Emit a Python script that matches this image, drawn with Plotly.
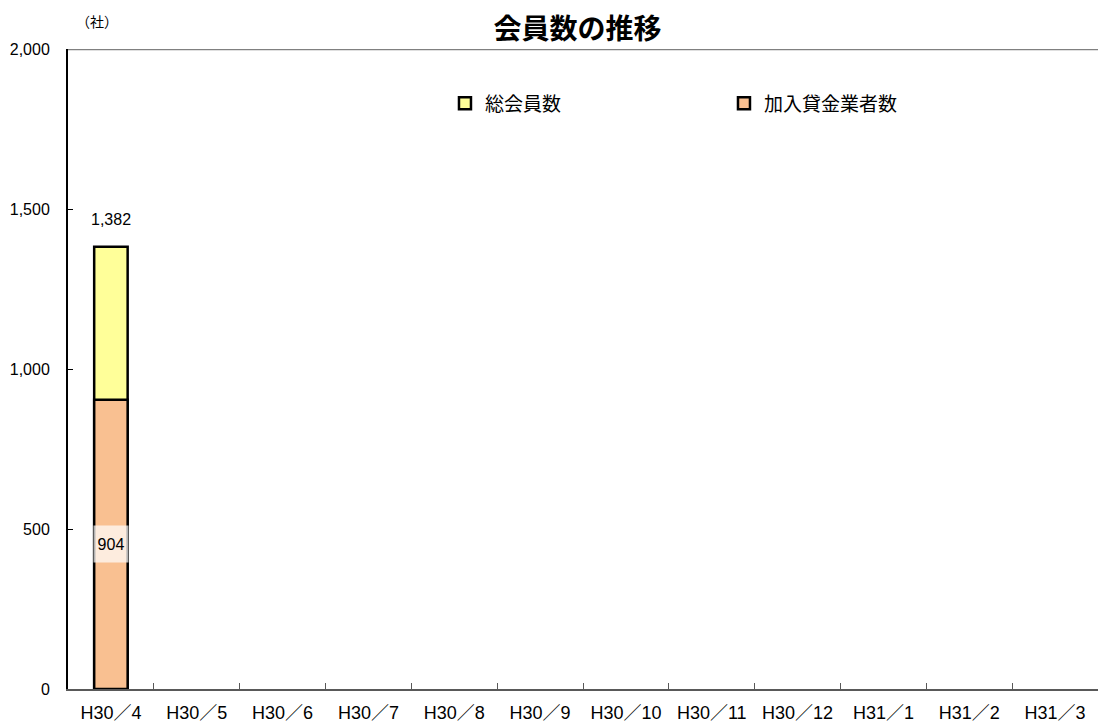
import plotly.graph_objects as go

categories = ["H30／4", "H30／5", "H30／6", "H30／7", "H30／8", "H30／9",
              "H30／10", "H30／11", "H30／12", "H31／1", "H31／2", "H31／3"]
total_members = [1382, None, None, None, None, None, None, None, None, None, None, None]
lender_members = [904, None, None, None, None, None, None, None, None, None, None, None]

CJK = "Noto Sans CJK JP"
LAT = "Liberation Sans, Arial, Noto Sans CJK JP"

fig = go.Figure()
fig.add_trace(go.Bar(
    x=categories, y=total_members, name="総会員数",
    marker=dict(color="#FFFF99", line=dict(color="black", width=2.5)),
    width=0.39,
))
fig.add_trace(go.Bar(
    x=categories, y=lender_members, name="加入貸金業者数",
    marker=dict(color="#F9C091", line=dict(color="black", width=2.5)),
    width=0.39,
))

# data labels
for c, v in zip(categories, total_members):
    if v is not None:
        fig.add_annotation(x=c, y=v, text=f"{v:,}", showarrow=False, yshift=27,
                           font=dict(family=LAT, size=16, color="black"))
for c, v in zip(categories, lender_members):
    if v is not None:
        fig.add_annotation(x=c, y=v / 2, text=f"{v:,}", showarrow=False,
                           bgcolor="rgba(255,255,255,0.7)", borderpad=0,
                           width=34, height=36,
                           font=dict(family=LAT, size=16, color="black"))

fig.add_shape(type="line", xref="paper", yref="y", x0=0, x1=1, y0=2000, y1=2000,
              line=dict(color="#808080", width=2.5))

fig.update_layout(
    width=1098, height=726,
    margin=dict(l=68, r=0, t=49, b=37, autoexpand=False),
    paper_bgcolor="white", plot_bgcolor="white",
    barmode="overlay",
    font=dict(family=LAT, color="black"),
    title=dict(text="<b>会員数の推移</b>", x=0.526, xanchor="center", y=0.96, yanchor="middle",
               xref="container", yref="container",
               font=dict(family=CJK, size=28, color="black")),
    showlegend=True,
    legend=dict(orientation="h", x=0.366, y=0.915, xanchor="left", yanchor="middle",
                entrywidth=234, entrywidthmode="pixels", itemwidth=30,
                font=dict(family=CJK, size=19, color="black"),
                bgcolor="rgba(0,0,0,0)"),
    xaxis=dict(type="category", categoryorder="array", categoryarray=categories,
               range=[-0.5, 11.5], automargin=False,
               showline=True, linecolor="#595959", linewidth=2,
               ticks="inside", tickson="boundaries", ticklen=6, tickcolor="#595959",
               ticklabelstandoff=6,
               showgrid=False, tickfont=dict(family=LAT, size=18, color="black")),
    yaxis=dict(range=[0, 2000], tickvals=[0, 500, 1000, 1500, 2000], tickformat=",",
               automargin=False,
               showline=True, linecolor="black", linewidth=2,
               ticks="inside", ticklen=5, tickcolor="black", ticklabelstandoff=13,
               showgrid=False, zeroline=False,
               tickfont=dict(family=LAT, size=16, color="black")),
)

fig.add_annotation(xref="paper", yref="paper", x=0.028, y=1.043, text="（社）", showarrow=False,
                   xanchor="center", yanchor="middle", font=dict(family=CJK, size=14, color="black"))

fig.write_html("out.html", config={"displayModeBar": False},
               post_script="document.body.style.margin='0';document.body.style.overflow='hidden';")
